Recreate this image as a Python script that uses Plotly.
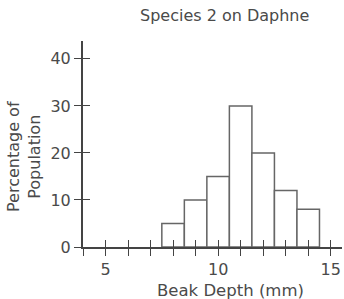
import plotly.graph_objects as go

# Data
bin_centers = [8, 9, 10, 11, 12, 13, 14]
percentages = [5, 10, 15, 30, 20, 12, 8]
bin_width = 1
x_tick_vals = list(range(4, 16))
x_tick_text = ["" if v not in (5, 10, 15) else str(v) for v in x_tick_vals]
y_tick_vals = [0, 10, 20, 30, 40]
title_text = "Species 2 on Daphne"
x_title = "Beak Depth (mm)"
y_title = "Percentage of<br>Population"

TXT = "#4a4a4a"
AX = "#444444"
FONT = "DejaVu Sans, Verdana, sans-serif"

fig = go.Figure()
fig.add_trace(go.Bar(
    x=bin_centers, y=percentages, width=bin_width,
    marker=dict(color="white", line=dict(color="#666666", width=1.5)),
    showlegend=False, hoverinfo="skip",
))
# empty trace so the overlay axes (inner half of the crossing ticks) are drawn
fig.add_trace(go.Scatter(x=[], y=[], xaxis="x2", yaxis="y2",
                         showlegend=False, hoverinfo="skip"))

XR = [4, 15.5]
YR = [0, 43.8]

fig.update_layout(
    width=344, height=299,
    margin=dict(l=83, r=2, t=41, b=52),
    paper_bgcolor="white", plot_bgcolor="white",
    font=dict(family=FONT, color=TXT, size=16),
    xaxis=dict(
        range=XR, showgrid=False, zeroline=False,
        showline=True, linewidth=2, linecolor=AX,
        ticks="outside", ticklen=7, tickwidth=1, tickcolor=AX,
        tickvals=x_tick_vals, ticktext=x_tick_text,
        tickfont=dict(size=16, color=TXT), fixedrange=True,
    ),
    xaxis2=dict(
        range=XR, overlaying="x", anchor="y2", side="bottom",
        showgrid=False, zeroline=False, showline=False,
        ticks="inside", ticklen=7, tickwidth=1, tickcolor=AX,
        tickvals=x_tick_vals[1:], showticklabels=False, fixedrange=True,
    ),
    yaxis=dict(
        range=YR, showgrid=False, zeroline=False,
        showline=True, linewidth=2, linecolor=AX,
        ticks="outside", ticklen=7, tickwidth=1, tickcolor=AX,
        tickvals=y_tick_vals, tickfont=dict(size=16, color=TXT),
        fixedrange=True,
    ),
    yaxis2=dict(
        range=YR, overlaying="y", anchor="x2", side="left",
        showgrid=False, zeroline=False, showline=False,
        ticks="inside", ticklen=7, tickwidth=1, tickcolor=AX,
        tickvals=y_tick_vals[1:], showticklabels=False, fixedrange=True,
    ),
    annotations=[
        dict(text=title_text, xref="paper", yref="paper",
             x=(224 - 83) / 259, y=1 + (41 - 15) / 206,
             xanchor="center", yanchor="middle", showarrow=False,
             font=dict(size=16, color=TXT)),
        dict(text=x_title, xref="paper", yref="paper",
             x=(230 - 83) / 259, y=-(290 - 247) / 206,
             xanchor="center", yanchor="middle", showarrow=False,
             font=dict(size=16.5, color=TXT)),
        dict(text=y_title, xref="paper", yref="paper",
             x=-(83 - 24) / 259, y=(247 - 157) / 206,
             xanchor="center", yanchor="middle", showarrow=False,
             textangle=-90, font=dict(size=16, color=TXT)),
    ],
)

fig.write_html(
    "out.html",
    config={"displayModeBar": False, "staticPlot": True},
    post_script="document.body.style.margin='0px';document.body.style.overflow='hidden';",
)
